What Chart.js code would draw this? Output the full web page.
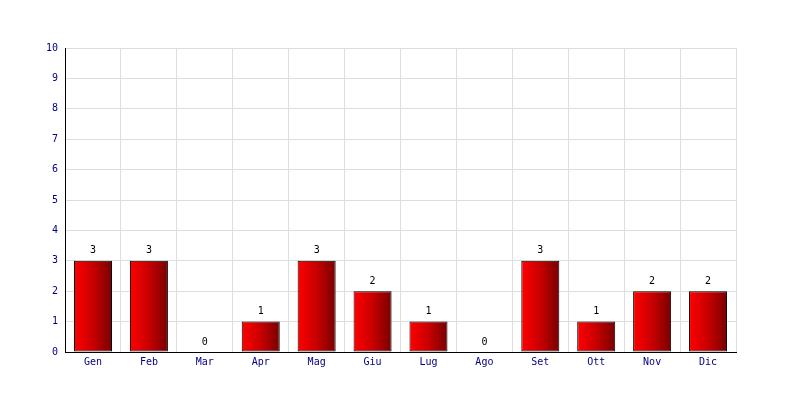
<!DOCTYPE html>
<html>
<head>
<meta charset="utf-8">
<script src="https://cdn.jsdelivr.net/npm/chart.js@4"></script>
<style>
  html, body { margin: 0; padding: 0; background: #fff; }
  #wrap { width: 800px; height: 400px; }
</style>
</head>
<body>
<div id="wrap"><canvas id="chart" width="800" height="400"></canvas></div>
<script>
// data
var months = ['Gen', 'Feb', 'Mar', 'Apr', 'Mag', 'Giu', 'Lug', 'Ago', 'Set', 'Ott', 'Nov', 'Dic'];
var counts = [3, 3, 0, 1, 3, 2, 1, 0, 3, 1, 2, 2];
var yMax = 10;

var FONT = 'DejaVu Sans Mono';

// red bars, lighter on the left, darker on the right
function barGradient(c) {
    var chart = c.chart;
    if (!chart.chartArea || !chart.scales.x) return '#cc0000';
    var xs = chart.scales.x;
    var cx = xs.getPixelForValue(c.dataIndex);
    var half = (xs.width / months.length) * 0.68 / 2;
    var g = chart.ctx.createLinearGradient(cx - half, 0, cx + half, 0);
    g.addColorStop(0, '#ff0000');
    g.addColorStop(0.5, '#c80000');
    g.addColorStop(1, '#780000');
    return g;
}

// numbers above each bar
var valueLabels = {
    id: 'valueLabels',
    afterDatasetsDraw: function (chart) {
        var ctx = chart.ctx;
        var meta = chart.getDatasetMeta(0);
        ctx.save();
        ctx.font = '10px "' + FONT + '"';
        ctx.fillStyle = '#000';
        ctx.textAlign = 'center';
        ctx.textBaseline = 'bottom';
        meta.data.forEach(function (bar, i) {
            ctx.fillText(String(counts[i]), bar.x, bar.y - 5);
        });
        ctx.restore();
    }
};

new Chart(document.getElementById('chart').getContext('2d'), {
    type: 'bar',
    data: {
        labels: months,
        datasets: [{
            data: counts,
            backgroundColor: barGradient,
            borderColor: '#000',
            borderWidth: 1,
            borderSkipped: false,
            categoryPercentage: 1.0,
            barPercentage: 0.68
        }]
    },
    options: {
        responsive: false,
        animation: false,
        layout: { padding: { left: 39, right: 64, top: 48, bottom: 28 } },
        plugins: {
            legend: { display: false },
            tooltip: { enabled: false }
        },
        scales: {
            x: {
                offset: true,
                grid: { offset: true, color: '#dddddd', drawTicks: false },
                border: { color: '#000', width: 1 },
                ticks: {
                    color: '#000080',
                    padding: 4,
                    font: { family: FONT, size: 10 }
                }
            },
            y: {
                min: 0,
                max: yMax,
                grid: { color: '#dddddd', drawTicks: false },
                border: { color: '#000', width: 1 },
                ticks: {
                    stepSize: 1,
                    color: '#000080',
                    padding: 7,
                    font: { family: FONT, size: 10 }
                }
            }
        }
    },
    plugins: [valueLabels]
});
</script>
</body>
</html>
